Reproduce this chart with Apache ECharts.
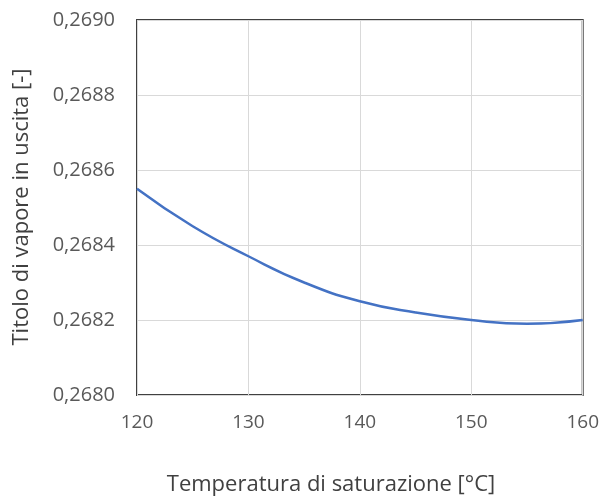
<!DOCTYPE html>
<html>
<head>
<meta charset="utf-8">
<script src="https://cdn.jsdelivr.net/npm/echarts@6/dist/echarts.min.js"></script>
<style>html,body{margin:0;padding:0;background:#fff}#c{width:602px;height:503px}</style>
</head>
<body>
<div id="c"></div>
<script>
// Temperatura di saturazione [°C]
const temperature = [120, 125, 130, 135, 140, 145, 150, 155, 160];
// Titolo di vapore in uscita [-]
const quality = [0.26855, 0.26845, 0.26837, 0.26830, 0.26825, 0.26822, 0.26820, 0.26819, 0.26820];
const xTicks = { min: 120, max: 160, step: 10 };
const yTicks = { min: 0.2680, max: 0.2690, step: 0.0002 };

const font = 'Open Sans, Noto Sans, sans-serif';
const chart = echarts.init(document.getElementById('c'), null, { renderer: 'canvas' });
chart.setOption({
  animation: false,
  backgroundColor: '#fff',
  grid: { left: 137, top: 20, right: 19, bottom: 108, show: true, borderColor: '#404040', borderWidth: 2, backgroundColor: 'transparent' },
  xAxis: {
    type: 'value', min: xTicks.min, max: xTicks.max, interval: xTicks.step,
    axisLine: { show: false }, axisTick: { show: false },
    splitLine: { show: true, lineStyle: { color: '#d9d9d9', width: 1 } },
    axisLabel: { color: '#595959', fontSize: 19, fontFamily: font, margin: 18 }
  },
  yAxis: {
    type: 'value', min: yTicks.min, max: yTicks.max, interval: yTicks.step,
    axisLine: { show: false }, axisTick: { show: false },
    splitLine: { show: true, lineStyle: { color: '#d9d9d9', width: 1 } },
    axisLabel: { color: '#595959', fontSize: 20, fontFamily: font, margin: 22,
      formatter: v => v.toFixed(4).replace('.', ',') }
  },
  series: [{
    type: 'line', smooth: true, showSymbol: false,
    data: temperature.map((t, i) => [t, quality[i]]),
    lineStyle: { color: '#4472c4', width: 2.5 }
  }],
  graphic: [
    { type: 'text', x: 331, y: 485,
      style: { text: 'Temperatura di saturazione [°C]', fill: '#404040', font: '22px ' + font, align: 'center', verticalAlign: 'middle' } },
    { type: 'text', x: 22, y: 207, rotation: Math.PI / 2,
      style: { text: 'Titolo di vapore in uscita [-]', fill: '#404040', font: '22px ' + font, align: 'center', verticalAlign: 'middle' } }
  ]
});
</script>
</body>
</html>
